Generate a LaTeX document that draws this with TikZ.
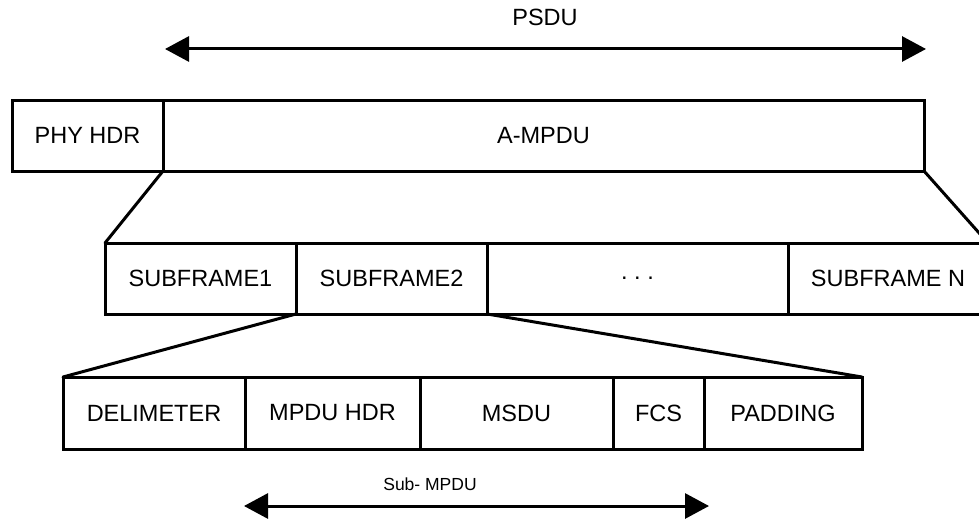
\documentclass[tikz,border=0pt]{standalone}
\usepackage{fontspec}
\setmainfont{Liberation Sans}
\usetikzlibrary{arrows.meta}

\tikzset{
  field/.style={draw=black, line width=3pt, rectangle, outer sep=0pt, inner sep=0pt,
    font=\fontsize{23.5}{26}\selectfont, text=black},
  span/.style={line width=3pt, {Triangle[length=24pt,width=25pt]}-{Triangle[length=24pt,width=25pt]}},
  fan/.style={line width=3pt, line cap=round},
  caption/.style={inner sep=0pt, font=\fontsize{23.5}{26}\selectfont},
  smallcaption/.style={inner sep=0pt, font=\fontsize{17.5}{20}\selectfont}
}

\begin{document}
\begin{tikzpicture}[x=1pt, y=-1pt]
  \clip (0,0) rectangle (979,519);
  \fill[white] (0,0) rectangle (979,519);

  % PSDU span
  \coordinate (psduL) at (165,49);
  \coordinate (psduR) at (926,49);
  \draw[span] (psduL) -- (psduR);
  \node[caption] (psdu) at (545,17) {PSDU};

  % top level: PHY header + A-MPDU
  \node[field, minimum width=151pt, minimum height=71pt] (phy)   at (87.5,135.5)  {PHY HDR};
  \node[field, minimum width=761pt, minimum height=71pt] (ampdu) at (543.5,135.5) {A-MPDU};

  % A-MPDU subframes
  \node[field, minimum width=191pt, minimum height=71pt] (sf1)  at (200.5,278.5) {SUBFRAME1};
  \node[field, minimum width=191pt, minimum height=71pt] (sf2)  at (391.5,278.5) {SUBFRAME2};
  \node[field, minimum width=301pt, minimum height=71pt] (dots) at (637.5,278.5) {.\ .\ .};
  \node[field, minimum width=200pt, minimum height=71pt] (sfn)  at (888,278.5)   {SUBFRAME N};

  % fields of one subframe
  \node[field, minimum width=182pt, minimum height=72pt] (delim) at (154,413)   {DELIMETER};
  \node[field, minimum width=175pt, minimum height=72pt] (mhdr)  at (332.5,413) {MPDU HDR};
  \node[field, minimum width=193pt, minimum height=72pt] (msdu)  at (516.5,413) {MSDU};
  \node[field, minimum width=91pt,  minimum height=72pt] (fcs)   at (658.5,413) {FCS};
  \node[field, minimum width=158pt, minimum height=72pt] (pad)   at (783,413)   {PADDING};

  % expansion lines
  \draw[fan] (ampdu.south west) -- (sf1.north west);
  \draw[fan] (ampdu.south east) -- (sfn.north east);
  \draw[fan] (sf2.south west) -- (delim.north west);
  \draw[fan] (sf2.south east) -- (pad.north east);

  % Sub-MPDU span
  \node[smallcaption] (submpdu) at (430,484) {Sub- MPDU};
  \coordinate (subL) at (244,506);
  \coordinate (subR) at (709,506);
  \draw[span] (subL) -- (subR);
\end{tikzpicture}
\end{document}
